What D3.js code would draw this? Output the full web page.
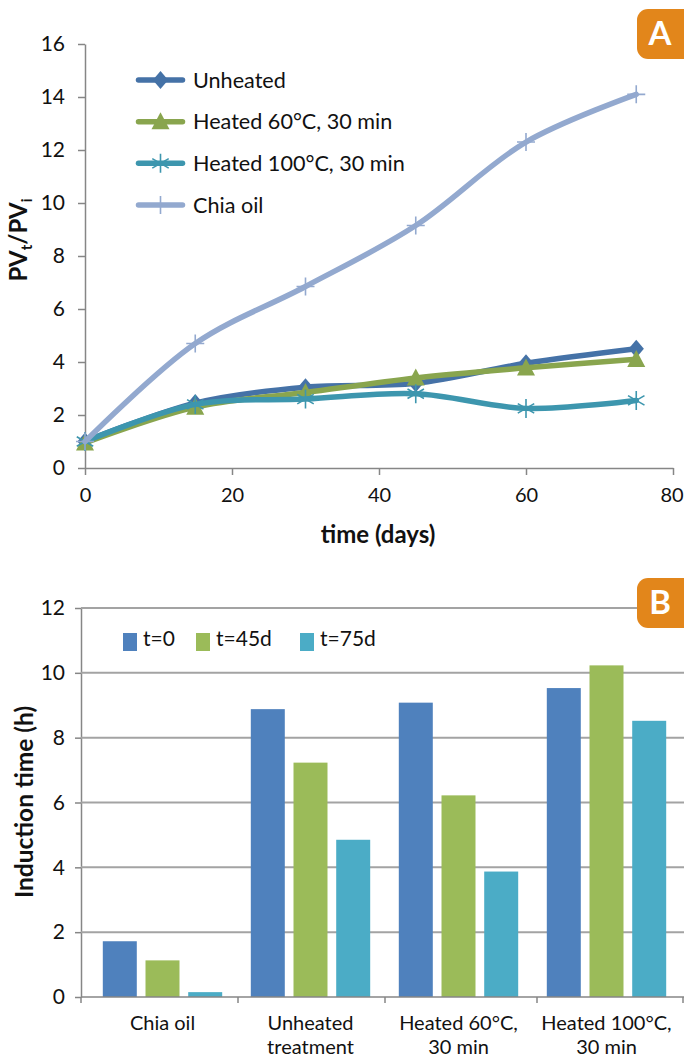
<!DOCTYPE html>
<html><head><meta charset="utf-8">
<script src="https://cdn.jsdelivr.net/npm/d3@7"></script>
<style>
html,body{margin:0;padding:0;background:#fff}
svg{display:block}
text{font-family:Lato,"Open Sans",sans-serif;fill:#111}
.axis path,.axis line{stroke:#868686;stroke-width:1.5}
</style></head><body>
<svg id="c" width="684" height="1057"></svg>
<script>
// Panel A data
const days = [0, 15, 30, 45, 60, 75];
const unheated = [1, 2.45, 3.05, 3.2, 3.95, 4.5];
const heated60 = [0.95, 2.3, 2.85, 3.4, 3.78, 4.1];
const heated100 = [1, 2.4, 2.6, 2.8, 2.25, 2.55];
const chiaOil = [1, 4.7, 6.85, 9.15, 12.3, 14.1];
const lineNames = ["Unheated", "Heated 60°C, 30 min", "Heated 100°C, 30 min", "Chia oil"];
const xTicksA = [0, 20, 40, 60, 80];
const yTicksA = [0, 2, 4, 6, 8, 10, 12, 14, 16];
// Panel B data
const treatments = ["Chia oil", "Unheated treatment", "Heated 60°C, 30 min", "Heated 100°C, 30 min"];
const t0 = [1.72, 8.88, 9.08, 9.53];
const t45 = [1.13, 7.23, 6.22, 10.23];
const t75 = [0.15, 4.85, 3.87, 8.52];
const barNames = ["t=0", "t=45d", "t=75d"];
const yTicksB = [0, 2, 4, 6, 8, 10, 12];

const lineColors = ["#4572A7", "#89A54E", "#3D96AE", "#93A9CF"];
const barColors = ["#4F81BD", "#9BBB59", "#4BACC6"];
const svg = d3.select("#c");

// custom marks
const starV = {draw(c, s){const r = Math.sqrt(s)/2;
  c.moveTo(0,-r);c.lineTo(0,r);
  const dx=r*0.866, dy=r*0.5;
  c.moveTo(-dx,-dy);c.lineTo(dx,dy);c.moveTo(-dx,dy);c.lineTo(dx,-dy);}};
const plus = {draw(c, s){const r = Math.sqrt(s)/2; c.moveTo(-r,0);c.lineTo(r,0);c.moveTo(0,-r);c.lineTo(0,r);}};
const tri = {draw(c, s){const r = Math.sqrt(s)/2; c.moveTo(0,-r*1.05);c.lineTo(r,r*0.85);c.lineTo(-r,r*0.85);c.closePath();}};
const dia = {draw(c, s){const r = Math.sqrt(s)/2; c.moveTo(0,-r);c.lineTo(r*0.85,0);c.lineTo(0,r);c.lineTo(-r*0.85,0);c.closePath();}};
const markers = [
  {type:dia, size:324, filled:true},
  {type:tri, size:324, filled:true},
  {type:starV, size:361, filled:false, w:1.6},
  {type:plus, size:324, filled:false, w:1.6}
];
function drawMarker(g, i, x, y){
  const m = markers[i];
  g.append("path").attr("d", d3.symbol(m.type, m.size)())
    .attr("transform", `translate(${x},${y})`)
    .attr("fill", m.filled ? lineColors[i] : "none")
    .attr("stroke", m.filled ? "none" : lineColors[i])
    .attr("stroke-width", m.w || 0);
}

// ---------- Panel A
const xA = d3.scaleLinear().domain([0, 80]).range([85, 673]);
const yA = d3.scaleLinear().domain([0, 16]).range([468, 44]);
const gxA = svg.append("g").attr("class","axis").attr("transform",`translate(0,${yA(0)})`)
  .call(d3.axisBottom(xA).tickValues(xTicksA).tickSize(7).tickSizeOuter(0).tickPadding(13));
const gyA = svg.append("g").attr("class","axis").attr("transform",`translate(${xA(0)},0)`)
  .call(d3.axisLeft(yA).tickValues(yTicksA).tickSize(7).tickSizeOuter(0).tickPadding(13));
gyA.selectAll("text").attr("font-size",21).style("font-family","Lato");
gxA.selectAll("text").attr("font-size",20).style("font-family","Lato")
  .attr("dx",d=>d===80?-1.5:0);

const seriesA = [unheated, heated60, heated100, chiaOil];
const lineA = d3.line().x((d,i)=>xA(days[i])).y(d=>yA(d)).curve(d3.curveCatmullRom.alpha(0.5));
seriesA.forEach((vals,i)=>{
  const g = svg.append("g");
  g.append("path").attr("d", lineA(vals)).attr("fill","none")
    .attr("stroke",lineColors[i]).attr("stroke-width",5.5).attr("stroke-linecap","round");
  vals.forEach((v,k)=>drawMarker(g,i,xA(days[k]),yA(v)));
});

// legend A
const legA = d3.scalePoint().domain(lineNames).range([80, 205]);
lineNames.forEach((n,i)=>{
  const y = legA(n);
  const g = svg.append("g");
  g.append("line").attr("x1",138.5).attr("x2",182.5).attr("y1",y).attr("y2",y)
    .attr("stroke",lineColors[i]).attr("stroke-width",5.5).attr("stroke-linecap","round");
  drawMarker(g,i,160.5,y);
  g.append("text").attr("x",193).attr("y",y).attr("dy","0.35em").attr("font-size",21.6).text(n);
});

// axis titles A
svg.append("text").attr("x",378).attr("y",543).attr("text-anchor","middle")
  .attr("font-size",24).attr("font-weight",700).text("time (days)");
const ttA = svg.append("text").attr("transform","translate(27,240) rotate(-90)")
  .attr("text-anchor","middle").attr("font-size",24).attr("font-weight",700);
ttA.append("tspan").text("PV");
ttA.append("tspan").attr("dy",5).attr("font-size",15).text("t");
ttA.append("tspan").attr("dy",-5).text("/PV");
ttA.append("tspan").attr("dy",5).attr("font-size",15).text("i");

// ---------- Panel B
const x0B = d3.scaleBand().domain(treatments).range([88.5, 680.5]);
const x1B = d3.scaleBand().domain(barNames).range([0, x0B.bandwidth()]).paddingInner(0.204).paddingOuter(0.335);
const yB = d3.scaleLinear().domain([0, 12]).range([997, 608]);
const gyB = svg.append("g").attr("class","axis").attr("transform","translate(81,0)")
  .call(d3.axisLeft(yB).tickValues(yTicksB).tickSize(6).tickSizeOuter(0).tickPadding(10));
gyB.selectAll("text").attr("font-size",21);
svg.append("g").selectAll("line").data(yTicksB.filter(d=>d>0)).join("line")
  .attr("x1",81).attr("x2",684).attr("y1",d=>yB(d)).attr("y2",d=>yB(d))
  .attr("stroke","#A3A3A3").attr("stroke-width",2);
const seriesB = [t0,t45,t75];
seriesB.forEach((vals,s)=>{
  svg.append("g").selectAll("rect").data(vals).join("rect")
    .attr("x",(d,i)=>x0B(treatments[i])+x1B(barNames[s]))
    .attr("width",x1B.bandwidth())
    .attr("y",d=>yB(d)).attr("height",d=>yB(0)-yB(d))
    .attr("fill",barColors[s]);
});
// baseline + category ticks
const gxB = svg.append("g").attr("class","axis").attr("transform",`translate(0,${yB(0)})`);
gxB.append("line").attr("x1",81).attr("x2",684);
const tickXs = [81, 238, 385, 537, 683];
gxB.selectAll(".t").data(tickXs).join("line").attr("class","t").attr("x1",d=>d).attr("x2",d=>d).attr("y1",0).attr("y2",6);
const labelLines = [["Chia oil"],["Unheated","treatment"],["Heated 60°C,","30 min"],["Heated 100°C,","30 min"]];
treatments.forEach((t,i)=>{
  const cx = x0B(t)+x0B.bandwidth()/2;
  labelLines[i].forEach((l,k)=>{
    svg.append("text").attr("x",cx).attr("y",1029.5+k*24).attr("text-anchor","middle")
      .attr("font-size",20).text(l);
  });
});
// legend B
const legX = d3.scaleOrdinal().domain(barNames).range([123,196,300]);
barNames.forEach((n,i)=>{
  svg.append("rect").attr("x",legX(n)).attr("y",633).attr("width",14).attr("height",18).attr("fill",barColors[i]);
  svg.append("text").attr("x",legX(n)+20).attr("y",646).attr("font-size",21).text(n);
});
svg.append("text").attr("transform","translate(33,802) rotate(-90)").attr("text-anchor","middle")
  .attr("font-size",24.5).attr("font-weight",700).text("Induction time (h)");

// ---------- badges
[["A",9],["B",578]].forEach(([l,y])=>{
  svg.append("rect").attr("x",637).attr("y",y).attr("width",60).attr("height",50).attr("rx",11).attr("fill","#E2861B");
  svg.append("text").attr("x",660).attr("y",y+36).attr("text-anchor","middle").attr("font-size",33).attr("font-weight",700)
    .style("fill","#fff").text(l);
});
</script>
</body></html>
